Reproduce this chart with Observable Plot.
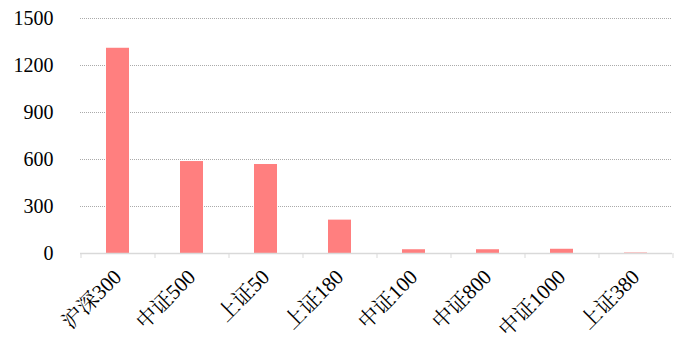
<!DOCTYPE html>
<html>
<head>
<meta charset="utf-8">
<script src="https://cdn.jsdelivr.net/npm/d3@7"></script>
<script src="https://cdn.jsdelivr.net/npm/@observablehq/plot@0.6"></script>
<style>
  html, body { margin: 0; padding: 0; background: #fff; }
  #chart svg { display: block; }
  #chart svg, #chart svg text, #chart svg g { font-family: 'Liberation Serif', 'Noto Serif CJK SC', serif !important; font-variant: normal !important; }
</style>
</head>
<body>
<div id="chart"></div>
<script>
const categories = ["沪深300", "中证500", "上证50", "上证180", "中证100", "中证800", "中证1000", "上证380"];
const values = [1310, 587, 568, 213, 24, 24, 27, 3];
const yTicks = [0, 300, 600, 900, 1200, 1500];

const data = categories.map((c, i) => ({category: c, value: values[i]}));

const W = 681, H = 348;
const mL = 80, mR = 9, mT = 18, mB = 95;
const step = (W - mL - mR) / categories.length;

const chart = Plot.plot({
  width: W,
  height: H,
  marginLeft: mL,
  marginRight: mR,
  marginTop: mT,
  marginBottom: mB,
  style: {fontSize: "20px", color: "#000", background: "#fff"},
  x: {domain: categories, paddingInner: 0.69, paddingOuter: 0.345, label: null},
  y: {domain: [0, 1500], label: null},
  marks: [
    Plot.ruleY(yTicks.filter(d => d > 0), {stroke: "#aaa", strokeDasharray: "1,1", strokeWidth: 1}),
    Plot.barY(data, {x: "category", y: "value", fill: "#FF7F7F"}),
    Plot.ruleY([0], {stroke: "#d9d9d9", strokeWidth: 1.5}),
    Plot.axisY({ticks: yTicks, tickSize: 0, tickPadding: 27, fontSize: 20, fill: "#000", tickFormat: d => String(d)}),
    Plot.axisX({ticks: categories, tickSize: 5, tickFormat: () => "", dx: -step / 2, stroke: "#d9d9d9"}),
    Plot.axisX({ticks: [categories[categories.length - 1]], tickSize: 5, tickFormat: () => "", dx: step / 2, stroke: "#d9d9d9"}),
    Plot.axisX({ticks: categories, tickSize: 0, tickPadding: 20, tickRotate: -45, fontSize: 21, fill: "#000", dx: 0})
  ]
});
d3.select(chart).selectAll("text, tspan").each(function() {
  this.style.setProperty("font-family", "'Liberation Serif', 'Noto Serif CJK SC', serif", "important");
});
document.getElementById("chart").appendChild(chart);
</script>
</body>
</html>
